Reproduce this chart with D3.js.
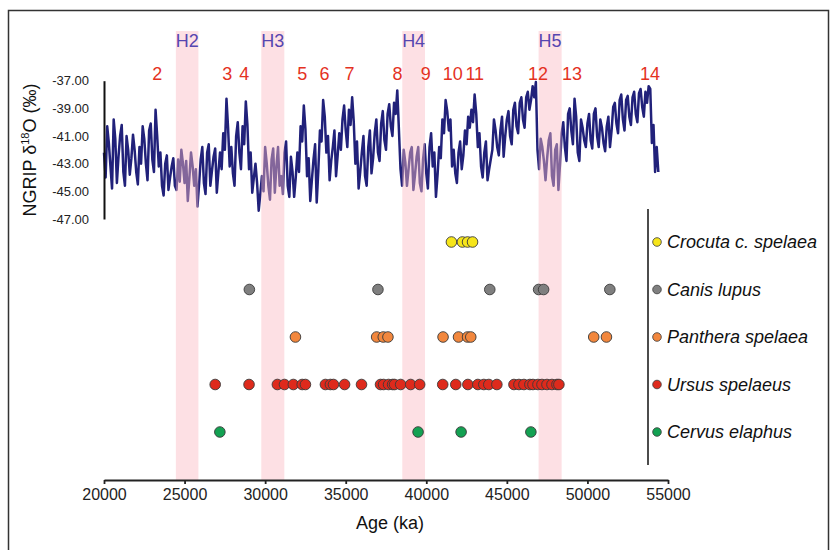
<!DOCTYPE html>
<html>
<head>
<meta charset="utf-8">
<script src="https://cdn.jsdelivr.net/npm/d3@7"></script>
<style>
body { margin: 0; background: #fff; }
svg { display: block; font-family: "Liberation Sans", Arial, sans-serif; }
</style>
</head>
<body>
<svg id="chart" width="831" height="550"></svg>
<script>
// NGRIP d18O, every 100 years starting at 20000
var ngripStart = 20000, ngripStep = 100;
var ngripValues = [
 -42.2,-44.0,-40.3,-41.5,-43.2,-44.8,-39.8,-41.2,-44.4,-42.5,
 -41.0,-40.2,-43.6,-44.6,-41.0,-42.0,-43.8,-42.6,-40.9,-42.0,
 -43.6,-44.5,-41.8,-43.0,-40.3,-41.2,-43.0,-44.2,-40.6,-40.1,
 -42.7,-43.6,-39.1,-41.0,-43.2,-42.2,-44.6,-45.3,-43.0,-42.4,
 -44.9,-44.0,-43.2,-42.6,-44.6,-44.9,-42.7,-44.3,-42.0,-43.0,
 -44.4,-42.8,-45.7,-44.0,-42.2,-43.2,-44.6,-43.4,-46.1,-44.5,
 -42.7,-41.8,-44.4,-45.2,-42.2,-41.6,-44.6,-43.5,-42.5,-41.9,
 -45.1,-43.6,-42.2,-43.4,-40.8,-42.0,-38.3,-40.4,-43.2,-41.8,
 -43.7,-44.6,-41.0,-40.0,-42.2,-43.4,-40.3,-41.6,-38.5,-40.2,
 -43.4,-42.2,-45.1,-44.0,-43.0,-44.4,-46.4,-45.2,-43.9,-45.0,
 -41.8,-43.0,-44.6,-45.6,-42.7,-41.9,-45.1,-43.2,-41.8,-44.6,
 -43.9,-45.2,-42.2,-41.4,-44.6,-45.4,-42.5,-43.6,-45.4,-44.0,
 -42.2,-43.6,-40.3,-41.4,-38.8,-40.5,-43.9,-42.6,-45.7,-44.2,
 -42.7,-41.6,-45.8,-43.5,-40.6,-41.4,-38.4,-39.6,-42.2,-41.0,
 -44.2,-42.8,-41.8,-40.6,-43.9,-42.4,-40.8,-42.0,-39.8,-38.8,
 -40.6,-41.8,-39.1,-40.2,-38.2,-40.0,-43.0,-41.4,-44.8,-43.6,
 -42.2,-41.0,-43.9,-44.6,-41.8,-40.6,-43.7,-42.6,-40.8,-39.8,
 -42.2,-42.8,-40.1,-39.2,-41.3,-42.0,-39.4,-38.7,-40.3,-41.0,
 -38.6,-39.4,-37.7,-40.5,-43.4,-44.6,-42.0,-42.9,-44.6,-43.4,
 -42.2,-41.8,-44.9,-43.8,-42.5,-41.8,-44.4,-45.0,-42.7,-41.6,
 -43.7,-44.8,-41.8,-40.8,-43.2,-42.2,-45.4,-43.8,-41.8,-42.6,
 -39.8,-40.8,-38.4,-39.2,-40.6,-39.8,-43.2,-42.0,-43.7,-44.4,
 -42.2,-41.4,-43.4,-42.4,-40.6,-41.6,-39.6,-40.4,-39.1,-40.0,
 -38.0,-39.4,-41.8,-40.8,-43.2,-44.0,-42.2,-41.4,-44.2,-43.4,
 -42.7,-42.0,-39.8,-40.6,-41.8,-42.4,-40.6,-39.6,-42.5,-41.0,
 -39.8,-39.2,-41.0,-41.6,-39.1,-38.6,-40.3,-40.8,-38.6,-38.2,
 -39.8,-40.4,-38.2,-37.8,-39.1,-38.4,-37.4,-38.2,-37.1,-42.0,
 -43.4,-41.2,-41.8,-42.8,-44.2,-42.6,-41.3,-40.8,-43.9,-44.6,
 -42.0,-41.6,-44.9,-43.0,-40.8,-40.0,-41.8,-42.8,-39.4,-39.0,
 -40.6,-41.6,-38.3,-39.6,-42.2,-42.8,-39.8,-40.4,-41.3,-41.8,
 -40.1,-39.4,-41.3,-41.9,-39.4,-39.0,-41.0,-41.8,-39.8,-40.4,
 -41.5,-42.1,-40.3,-39.6,-41.8,-40.6,-38.9,-38.6,-40.1,-40.8,
 -38.4,-38.0,-39.8,-40.6,-38.4,-38.1,-39.6,-40.2,-38.2,-37.8,
 -39.4,-40.0,-37.9,-37.6,-38.9,-39.6,-37.8,-38.6,-37.4,-37.6,
 -41.5,-40.2,-43.6,-41.8,-43.6
];

// Heinrich events (age span)
var heinrich = [
  {name: "H2", from: 24460, to: 25860},
  {name: "H3", from: 29760, to: 31190},
  {name: "H4", from: 38510, to: 39920},
  {name: "H5", from: 46970, to: 48400}
];

// interstadial numbers
var isLabels = ["2","3","4","5","6","7","8","9","10","11","12","13","14"];
var isAges = [23300, 27650, 28710, 32310, 33680, 35240, 38220, 39960, 41640, 43010, 46930, 49040, 53890];

// dated remains per species
var species = ["Crocuta c. spelaea", "Canis lupus", "Panthera spelaea", "Ursus spelaeus", "Cervus elaphus"];
var speciesColors = ["#f6e51a", "#7f7f7f", "#f2873d", "#de2a1c", "#13a152"];
var crocutaAges = [41560, 42240, 42560, 42870];
var canisAges = [29020, 37000, 43940, 46970, 47280, 51390];
var pantheraAges = [31880, 36920, 37330, 37620, 41040, 42000, 42560, 42760, 50390, 51180];
var ursusAges = [26900, 29000, 30760, 31200, 31750, 32300, 32500, 33740, 34050, 34240,
  34930, 35980, 37160, 37350, 37660, 37910, 38030, 38410, 39030, 39590,
  41020, 41830, 42580, 43200, 43570, 43880, 44380, 45440, 45750, 46060,
  46430, 46620, 46930, 47180, 47490, 47800, 48110, 48230];
var cervusAges = [27190, 39490, 42160, 46490];
var speciesAges = [crocutaAges, canisAges, pantheraAges, ursusAges, cervusAges];

var xTicks = [20000, 25000, 30000, 35000, 40000, 45000, 50000, 55000];
var yTicks = [-37, -39, -41, -43, -45, -47];

var svg = d3.select("#chart");

var x = d3.scaleLinear().domain([20000, 55000]).range([104, 668]);
var y = d3.scaleLinear().domain([-47, -37]).range([219, 80.7]);
var row = d3.scalePoint().domain(species).range([242, 432]);

// frame
svg.append("rect")
.attr("x", 8.5).attr("y", 10.5)
.attr("width", 820).attr("height", 560)
.attr("fill", "none")
.attr("stroke", "#333")
.attr("stroke-width", 1.5);

// NGRIP curve
var line = d3.line()
.x(function(d, i) { return x(ngripStart + i * ngripStep); })
.y(function(d) { return y(d); });

svg.append("path")
.datum(ngripValues)
.attr("d", line)
.attr("fill", "none")
.attr("stroke", "#21217a")
.attr("stroke-width", 2.5)
.attr("stroke-linejoin", "round");

// Heinrich bands (over the curve, under the dots)
svg.append("g").selectAll("rect")
.data(heinrich)
.enter().append("rect")
.attr("x", function(d) { return x(d.from); })
.attr("width", function(d) { return x(d.to) - x(d.from); })
.attr("y", 31)
.attr("height", 449)
.attr("fill", "rgb(250,186,195)")
.attr("fill-opacity", 0.45);

svg.append("g").selectAll("text")
.data(heinrich)
.enter().append("text")
.attr("x", function(d) { return x((d.from + d.to) / 2); })
.attr("y", 47)
.attr("text-anchor", "middle")
.attr("font-size", 18)
.attr("fill", "#5646b0")
.text(function(d) { return d.name; });

svg.append("g").selectAll("text")
.data(isLabels)
.enter().append("text")
.attr("x", function(d, i) { return x(isAges[i]); })
.attr("y", 80)
.attr("text-anchor", "middle")
.attr("font-size", 18)
.attr("fill", "#e4321f")
.text(function(d) { return d; });

// y axis of the curve
var yAxis = svg.append("g")
.attr("transform", "translate(104,0)")
.call(d3.axisLeft(y).tickValues(yTicks).tickSize(0).tickSizeOuter(0).tickPadding(15)
  .tickFormat(function(d) { return d.toFixed(2); }));
yAxis.select(".domain").attr("stroke", "#111").attr("stroke-width", 2);
yAxis.selectAll("text").attr("font-size", 13).attr("fill", "#222")
.attr("font-family", "Liberation Sans, Arial, sans-serif");

var yTitle = svg.append("text")
.attr("transform", "translate(36,150) rotate(-90)")
.attr("text-anchor", "middle")
.attr("font-size", 18)
.attr("fill", "#111");
yTitle.append("tspan").text("NGRIP δ");
yTitle.append("tspan").attr("font-size", 11).attr("dy", -7).text("18");
yTitle.append("tspan").attr("dy", 7).text("O (‰)");

// x axis
var xAxis = svg.append("g")
.attr("transform", "translate(0,480)")
.call(d3.axisBottom(x).tickValues(xTicks).tickSize(4).tickSizeOuter(0).tickPadding(5)
  .tickFormat(function(d) { return d; }));
xAxis.select(".domain").attr("stroke", "#222").attr("stroke-width", 1.8);
xAxis.selectAll("line").attr("stroke", "#222").attr("stroke-width", 1.8);
xAxis.selectAll("text").attr("font-size", 16).attr("fill", "#222")
.attr("font-family", "Liberation Sans, Arial, sans-serif");

svg.append("text")
.attr("x", 390).attr("y", 529)
.attr("text-anchor", "middle")
.attr("font-size", 18)
.attr("fill", "#111")
.text("Age (ka)");

// dots
species.forEach(function(s, k) {
  svg.append("g").selectAll("circle")
  .data(speciesAges[k])
  .enter().append("circle")
  .attr("cx", function(d) { return x(d); })
  .attr("cy", row(s))
  .attr("r", 5.3)
  .attr("fill", speciesColors[k])
  .attr("stroke", "#3a3a3a")
  .attr("stroke-width", 0.9);
});

// legend
svg.append("line")
.attr("x1", 648).attr("x2", 648)
.attr("y1", 209).attr("y2", 465)
.attr("stroke", "#111").attr("stroke-width", 1.5);

var legend = svg.append("g").selectAll("g")
.data(species)
.enter().append("g")
.attr("transform", function(d) { return "translate(0," + row(d) + ")"; });

legend.append("circle")
.attr("cx", 657).attr("r", 4.3)
.attr("fill", function(d, i) { return speciesColors[i]; })
.attr("stroke", "#3a3a3a").attr("stroke-width", 0.8);

legend.append("text")
.attr("x", 667).attr("y", 6)
.attr("font-size", 18)
.attr("font-style", "italic")
.attr("fill", "#111")
.text(function(d) { return d; });
</script>
</body>
</html>
